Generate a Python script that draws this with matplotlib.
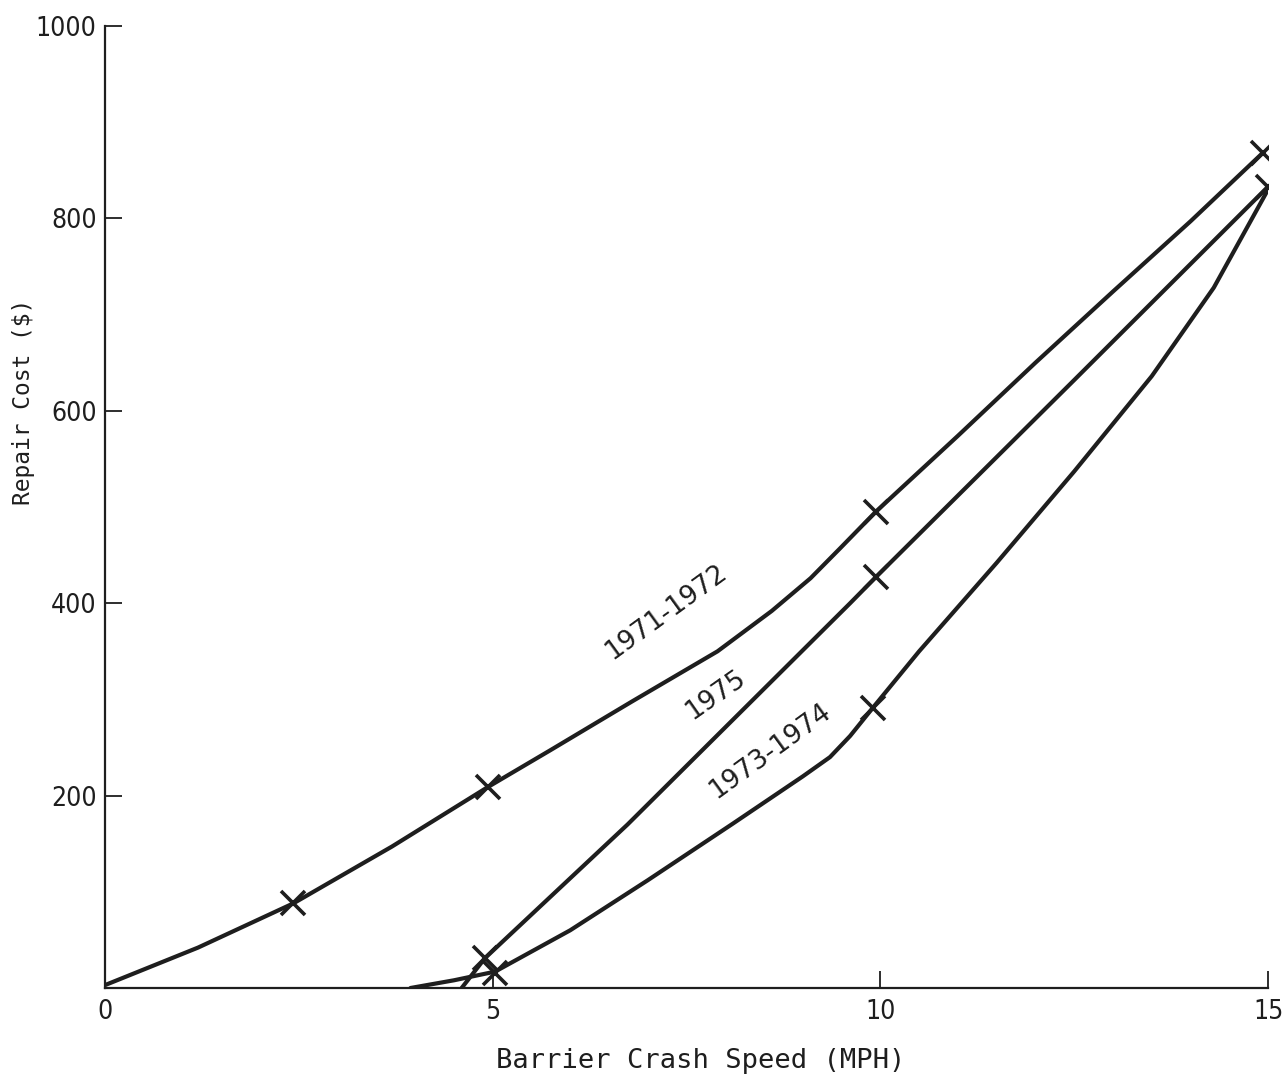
import matplotlib
matplotlib.use("Agg")
import matplotlib.pyplot as plt

# Repair cost curves by model year (speed in MPH, cost in $)
speed_7172 = [0.0, 1.2, 2.43, 3.7, 4.94, 5.74, 6.8, 7.9, 8.6, 9.1, 9.48, 9.94, 11.0, 12.0, 13.0, 14.0, 14.93]
cost_7172 = [3, 42, 88, 147, 209, 247, 298, 350, 392, 426, 457, 495, 574, 650, 724, 797, 868]

speed_75 = [4.6, 4.9, 6.74, 9.61, 9.94, 12.5, 15.0]
cost_75 = [0, 31, 170, 400, 427, 632, 833]

speed_7374 = [3.94, 4.5, 5.03, 6.0, 7.0, 8.1, 9.0, 9.35, 9.61, 9.9, 10.5, 11.5, 12.5, 13.5, 14.3, 15.0]
cost_7374 = [0, 8, 17, 60, 112, 171, 220, 240, 262, 291, 350, 442, 537, 636, 728, 830]

# Measured points marked with crosses
mark_speed_7172 = [2.43, 4.94, 9.94, 14.93]
mark_cost_7172 = [88, 209, 495, 868]
mark_speed_75 = [4.9, 9.94, 15.0]
mark_cost_75 = [31, 427, 833]
mark_speed_7374 = [5.03, 9.9]
mark_cost_7374 = [16, 291]

x_ticks = [0, 5, 10, 15]
y_ticks = [200, 400, 600, 800, 1000]

ink = "#1e1e1e"

fig = plt.figure(figsize=(12.85, 10.85), dpi=100)
ax = fig.add_axes([0.0817, 0.0894, 0.9051, 0.8866])

line_kw = dict(color=ink, lw=3.0, solid_capstyle="round", solid_joinstyle="round")
ax.plot(speed_7172, cost_7172, **line_kw)
ax.plot(speed_75, cost_75, **line_kw)
ax.plot(speed_7374, cost_7374, **line_kw)

mark_kw = dict(ls="none", marker="x", ms=17, mew=2.6, color=ink)
ax.plot(mark_speed_7172, mark_cost_7172, **mark_kw)
ax.plot(mark_speed_75, mark_cost_75, **mark_kw)
ax.plot(mark_speed_7374, mark_cost_7374, **mark_kw)

label_font = dict(family="DejaVu Sans", fontsize=19, color=ink, ha="center", va="center")
ax.text(7.23, 391, "1971-1972", rotation=36, **label_font)
ax.text(7.87, 305, "1975", rotation=35, **label_font)
ax.text(8.58, 246, "1973-1974", rotation=36, **label_font)

ax.set_xlim(0, 15)
ax.set_ylim(0, 1000)
ax.set_xticks(x_ticks)
ax.set_yticks(y_ticks)
ax.set_xticklabels([str(v) for v in x_ticks], fontsize=19, family="DejaVu Sans",
                   fontstretch="condensed")
ax.set_yticklabels([str(v) for v in y_ticks], fontsize=19, family="DejaVu Sans",
                   fontstretch="condensed")
ax.tick_params(axis="both", direction="in", length=12, width=1.3, color=ink, labelcolor=ink)
ax.tick_params(axis="x", pad=8)
ax.tick_params(axis="y", pad=6)

for side in ("top", "right"):
    ax.spines[side].set_visible(False)
for side in ("left", "bottom"):
    ax.spines[side].set_linewidth(1.6)
    ax.spines[side].set_color(ink)

ax.set_xlabel("Barrier Crash Speed (MPH)", family="DejaVu Sans Mono", fontsize=19.5,
              color=ink)
ax.xaxis.set_label_coords(0.512, -0.062)
ax.set_ylabel("Repair Cost ($)", family="DejaVu Sans Mono", fontsize=16.5, color=ink)
ax.yaxis.set_label_coords(-0.06, 0.609)

fig.savefig("out.png", dpi=100, facecolor="white")
